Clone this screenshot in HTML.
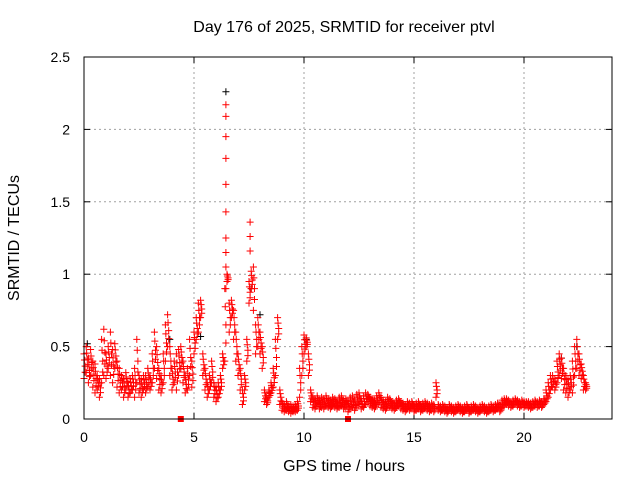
<!DOCTYPE html>
<html><head><meta charset="utf-8"><style>
body{margin:0;background:#fff}
svg{display:block;font-family:"Liberation Sans",sans-serif}
</style></head><body>
<svg id="chart" width="640" height="480" viewBox="0 0 640 480" xmlns="http://www.w3.org/2000/svg">
<rect width="640" height="480" fill="#fff"/>
<text x="344" y="32" font-size="16" text-anchor="middle">Day 176 of 2025, SRMTID for receiver ptvl</text>
<text x="344" y="471" font-size="16" text-anchor="middle">GPS time / hours</text>
<text transform="translate(19,238) rotate(-90)" font-size="16" text-anchor="middle">SRMTID / TECUs</text>
<g id="grid"></g><g id="ticks"></g><g id="marks"></g>
<rect x="84" y="57" width="528" height="362" fill="none" stroke="#000" stroke-width="1"/>
</svg>
<script>
const xTicks=[0,5,10,15,20];
const yTicks=[0,0.5,1,1.5,2,2.5];
const yTickLabels=["0","0.5","1","1.5","2","2.5"];
// per 0.1h bins starting at 0.0h: low and high values
const lowVals=[.28,.32,.25,.3,.22,.18,.2,.15,.25,.3,.28,.35,.3,.25,.35,.22,.18,.2,.15,.2,
.15,.18,.2,.15,.25,.18,.15,.2,.18,.22,.2,.25,.35,.28,.2,.18,.25,.4,.5,.3,
.2,.25,.2,.3,.35,.25,.18,.2,.3,.22,.45,.55,.6,.7,.3,.2,.15,.2,.25,.15,
.12,.15,.2,.35,.4,.95,.6,.7,.55,.4,.3,.2,.1,.2,.4,.8,.9,.75,.45,.5,
.45,.35,.12,.1,.15,.18,.22,.3,.55,.1,.06,.05,.06,.05,.04,.05,.05,.06,.15,.3,
.45,.5,.3,.12,.08,.07,.09,.07,.08,.07,.09,.08,.07,.09,.08,.07,.08,.09,.07,.08,
.05,.07,.08,.06,.09,.1,.07,.08,.1,.12,.09,.08,.07,.1,.11,.08,.07,.06,.09,.08,
.07,.06,.08,.09,.07,.06,.05,.07,.06,.08,.05,.06,.07,.05,.06,.07,.06,.05,.06,.05,
.15,.06,.05,.06,.05,.04,.06,.05,.04,.05,.06,.05,.04,.05,.06,.04,.05,.06,.05,.04,
.05,.06,.05,.04,.05,.06,.05,.06,.07,.05,.08,.09,.1,.09,.08,.09,.1,.09,.08,.09,
.08,.09,.08,.07,.08,.09,.08,.09,.08,.1,.12,.15,.2,.22,.2,.25,.3,.28,.2,.18,
.15,.2,.18,.3,.35,.3,.28,.2,.2];
const highVals=[.45,.5,.42,.48,.4,.38,.3,.28,.55,.62,.45,.5,.6,.48,.52,.4,.35,.3,.28,.32,
.25,.28,.3,.35,.55,.3,.28,.3,.3,.35,.3,.45,.6,.5,.35,.3,.45,.65,.72,.5,
.35,.4,.45,.48,.5,.4,.3,.35,.55,.4,.6,.7,.8,.82,.45,.35,.25,.3,.4,.25,
.22,.25,.3,.45,.9,1.0,.8,.82,.75,.6,.45,.35,.2,.3,.55,.95,1.02,1.05,.65,.7,
.6,.5,.2,.15,.2,.25,.35,.55,.7,.2,.12,.1,.12,.09,.1,.09,.1,.12,.35,.5,
.58,.56,.45,.2,.15,.14,.16,.13,.15,.14,.16,.14,.13,.15,.14,.12,.15,.16,.13,.14,
.12,.15,.16,.13,.17,.18,.14,.16,.18,.17,.15,.14,.13,.16,.18,.15,.13,.12,.15,.14,
.12,.11,.13,.14,.12,.11,.1,.12,.11,.12,.1,.11,.12,.1,.11,.12,.11,.1,.11,.1,
.25,.1,.09,.1,.09,.08,.1,.09,.08,.09,.1,.09,.08,.09,.1,.08,.09,.1,.09,.08,
.09,.1,.09,.08,.09,.1,.09,.1,.11,.09,.13,.14,.14,.13,.12,.13,.14,.13,.12,.13,
.12,.12,.12,.11,.12,.13,.12,.13,.12,.14,.2,.25,.3,.3,.28,.4,.45,.42,.35,.3,
.28,.3,.4,.5,.55,.45,.38,.3,.25];
const spikeTimes=[6.45,6.45,6.45,6.45,6.45,6.45,6.45,6.45,6.45,6.45,7.55,7.55,7.55];
const spikeVals=[2.17,2.09,1.95,1.8,1.62,1.43,1.25,1.15,1.05,0.9,1.36,1.26,1.16];
const blackTimes=[6.45,7.6,0.15,3.9,5.3,21.7,22.4,10.1,8.0];
const blackVals=[2.26,0.9,0.52,0.55,0.57,0.42,0.5,0.55,0.72];
const flagTimes=[4.4,12.0];
const flagVals=[0,0];

const X=t=>84+t*22, Y=v=>419-v*144.8;
const NS="http://www.w3.org/2000/svg";
const grid=document.getElementById('grid'),ticks=document.getElementById('ticks'),marks=document.getElementById('marks');
function mk(tag,attrs,parent){const e=document.createElementNS(NS,tag);for(const k in attrs)e.setAttribute(k,attrs[k]);parent.appendChild(e);return e;}
xTicks.forEach(t=>{
  if(t>0){const g=mk('line',{x1:X(t),x2:X(t),y1:57,y2:419,stroke:'#a0a0a0','stroke-dasharray':'2,3'},grid);
  
  }
  const l=mk('text',{x:X(t),y:442,'font-size':14,'text-anchor':'middle'},ticks);l.textContent=t;
  
  
  mk('line',{x1:X(t),x2:X(t),y1:419,y2:413,stroke:'#000'},ticks);
  mk('line',{x1:X(t),x2:X(t),y1:57,y2:63,stroke:'#000'},ticks);
});
yTicks.forEach((v,i)=>{
  if(v>0&&v<2.5){const g=mk('line',{x1:84,x2:612,y1:Y(v),y2:Y(v),stroke:'#a0a0a0','stroke-dasharray':'2,3'},grid);
  
  }
  const l=mk('text',{x:70,y:Y(v)+5,'font-size':14,'text-anchor':'end'},ticks);l.textContent=yTickLabels[i];
  
  
  mk('line',{x1:84,x2:90,y1:Y(v),y2:Y(v),stroke:'#000'},ticks);
  mk('line',{x1:612,x2:606,y1:Y(v),y2:Y(v),stroke:'#000'},ticks);
});
function cross(t,v,color,name){
  const x=X(t),y=Y(v);
  const p=mk('path',{d:`M${x-3.5},${y}h7M${x},${y-3.5}v7`,stroke:color,'stroke-width':1,fill:'none'},marks);
  
  
}
blackTimes.forEach((t,i)=>cross(t,blackVals[i],'#000','black-point'));
lowVals.forEach((lo,i)=>{
  const t=i*0.1, hi=highVals[i];
  cross(t,lo,'#f00','red-point');
  cross(t+0.05,(lo+hi)/2,'#f00','red-point');
  cross(t,hi,'#f00','red-point');
  cross(t+0.05,(3*lo+hi)/4,'#f00','red-point');
  cross(t+0.02,(lo+3*hi)/4,'#f00','red-point');
});
spikeTimes.forEach((t,i)=>cross(t,spikeVals[i],'#f00','spike-point'));
flagTimes.forEach((t,i)=>{
  const r=mk('rect',{x:X(t)-3,y:Y(flagVals[i])-3,width:6,height:6,fill:'#f00'},marks);
  
  
});
</script>
</body></html>
